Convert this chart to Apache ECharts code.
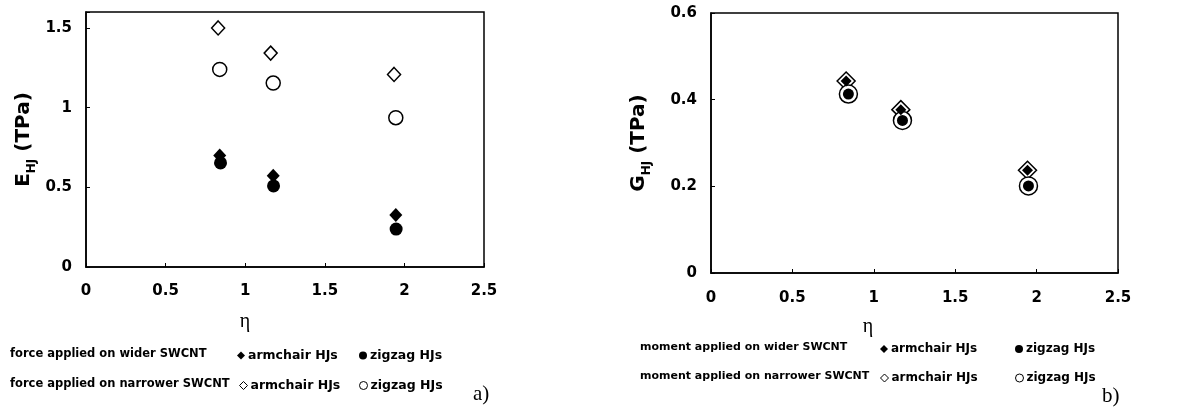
<!DOCTYPE html>
<html>
<head>
<meta charset="utf-8">
<script src="https://cdn.jsdelivr.net/npm/echarts@6/dist/echarts.min.js"></script>
<style>
html,body{margin:0;padding:0;background:#fff;}
#chart{width:1199px;height:409px;}
</style>
</head>
<body>
<div id="chart"></div>
<script>
// ---- data (η, value in TPa) ----
var xTicks = [0, 0.5, 1, 1.5, 2, 2.5];
// a) Young's modulus E_HJ
var E_widerArmchair    = [[0.84, 0.700], [1.176, 0.572], [1.946, 0.326]];
var E_widerZigzag      = [[0.845, 0.653], [1.178, 0.509], [1.948, 0.238]];
var E_narrowerArmchair = [[0.83, 1.500], [1.160, 1.342], [1.935, 1.208]];
var E_narrowerZigzag   = [[0.84, 1.240], [1.176, 1.154], [1.946, 0.937]];
// b) shear modulus G_HJ
var G_widerArmchair    = [[0.83, 0.443], [1.166, 0.377], [1.944, 0.237]];
var G_widerZigzag      = [[0.844, 0.413], [1.176, 0.352], [1.950, 0.201]];
var G_narrowerArmchair = [[0.83, 0.443], [1.166, 0.377], [1.944, 0.237]];
var G_narrowerZigzag   = [[0.844, 0.413], [1.176, 0.352], [1.950, 0.201]];

var legendLabels = {
  'E wider armchair': 'armchair HJs', 'E wider zigzag': 'zigzag HJs',
  'E narrower armchair': 'armchair HJs', 'E narrower zigzag': 'zigzag HJs',
  'G wider armchair': 'armchair HJs', 'G wider zigzag': 'zigzag HJs',
  'G narrower armchair': 'armchair HJs', 'G narrower zigzag': 'zigzag HJs'
};

var SANS = 'DejaVu Sans';
var chart = echarts.init(document.getElementById('chart'), null, {renderer: 'canvas'});

function xAxis(gridIndex, labelMargin, nameGap, padRight) {
  return {
    gridIndex: gridIndex, type: 'value', min: 0, max: 2.5, interval: 0.5,
    name: 'η', nameLocation: 'middle', nameGap: nameGap,
    nameTextStyle: {fontFamily: 'Liberation Serif', fontSize: 20, color: '#000', padding: [0, padRight, 0, 0]},
    axisLine: {show: true, lineStyle: {color: '#000', width: 1.5}},
    axisTick: {show: true, inside: true, length: 4, lineStyle: {color: '#000', width: 1}},
    axisLabel: {color: '#000', fontFamily: SANS, fontWeight: 'bold', fontSize: 15, margin: labelMargin},
    splitLine: {show: false}
  };
}
function yAxis(gridIndex, max, interval, letter, nameGap) {
  return {
    gridIndex: gridIndex, type: 'value', min: 0, max: max, interval: interval,
    name: '{b|' + letter + '}{s|HJ}{b| (TPa)}', nameLocation: 'middle', nameGap: nameGap,
    nameTextStyle: {
      color: '#000',
      rich: {
        b: {fontFamily: SANS, fontWeight: 'bold', fontSize: 20, color: '#000', lineHeight: 24, verticalAlign: 'bottom'},
        s: {fontFamily: SANS, fontWeight: 'bold', fontSize: 12, color: '#000', lineHeight: 14, verticalAlign: 'bottom', padding: [0, 0, -4, 0]}
      }
    },
    axisLine: {show: true, lineStyle: {color: '#000', width: 1.5}},
    axisTick: {show: true, inside: true, length: 4, lineStyle: {color: '#000', width: 1}},
    axisLabel: {
      color: '#000', fontFamily: SANS, fontWeight: 'bold', fontSize: 15, margin: 14,
      formatter: function (v) {
        var r = Math.round(v / interval) * interval;
        if (Math.abs(r - v) > 1e-6) return '';
        return String(+v.toFixed(2));
      }
    },
    splitLine: {show: false}
  };
}
function filledStyle() { return {color: '#000', borderColor: '#000', borderWidth: 0, opacity: 1}; }
function openStyle(w) { return {color: '#fff', borderColor: '#000', borderWidth: w, opacity: 1}; }

function legendItem(name, left, top, filled, symbol, fs) {
  return {
    show: true, left: left, top: top, orient: 'horizontal', padding: 0,
    itemWidth: 8, itemHeight: 8, itemGap: 0, selectedMode: false,
    data: [{name: name, icon: symbol,
            itemStyle: filled ? {color: '#000', borderWidth: 0, opacity: 1} : {color: '#fff', borderColor: '#000', borderWidth: 1, opacity: 1}}],
    formatter: function (n) { return legendLabels[n]; },
    textStyle: {color: '#000', fontFamily: SANS, fontWeight: 'bold', fontSize: fs, lineHeight: 12, padding: [0, 0, 0, -2]}
  };
}

var option = {
  backgroundColor: '#fff',
  animation: false,
  grid: [
    {left: 86, top: 12, width: 398, height: 255, show: true, borderColor: '#000', borderWidth: 1.5, backgroundColor: 'transparent'},
    {left: 711, top: 13, width: 407, height: 260, show: true, borderColor: '#000', borderWidth: 1.5, backgroundColor: 'transparent'}
  ],
  xAxis: [xAxis(0, 17, 45, 80), xAxis(1, 18, 44, 93)],
  yAxis: [yAxis(0, 1.6, 0.5, 'E', 52), yAxis(1, 0.6, 0.2, 'G', 62)],
  legend: [
    legendItem('E wider armchair', 237, 349, true, 'diamond', 12.5),
    legendItem('E wider zigzag', 359, 349, true, 'circle', 12.5),
    legendItem('E narrower armchair', 239, 379, false, 'diamond', 12.5),
    legendItem('E narrower zigzag', 359, 379, false, 'circle', 12.5),
    legendItem('G wider armchair', 880, 343, true, 'diamond', 12),
    legendItem('G wider zigzag', 1015, 343, true, 'circle', 12),
    legendItem('G narrower armchair', 880, 372, false, 'diamond', 12),
    legendItem('G narrower zigzag', 1015, 372, false, 'circle', 12)
  ],
  graphic: [
    {type: 'text', left: 10, top: 348, style: {text: 'force applied on wider SWCNT', fill: '#000', font: 'bold 11.5px "DejaVu Sans"'}},
    {type: 'text', left: 10, top: 378, style: {text: 'force applied on narrower SWCNT', fill: '#000', font: 'bold 11.5px "DejaVu Sans"'}},
    {type: 'text', left: 640, top: 342, style: {text: 'moment applied on wider SWCNT', fill: '#000', font: 'bold 11px "DejaVu Sans"'}},
    {type: 'text', left: 640, top: 371, style: {text: 'moment applied on narrower SWCNT', fill: '#000', font: 'bold 11px "DejaVu Sans"'}},
    {type: 'text', left: 473, top: 384, style: {text: 'a)', fill: '#000', font: '21px "Liberation Serif"'}},
    {type: 'text', left: 1102, top: 386, style: {text: 'b)', fill: '#000', font: '21px "Liberation Serif"'}}
  ],
  series: [
    {name: 'E narrower armchair', type: 'scatter', xAxisIndex: 0, yAxisIndex: 0, data: E_narrowerArmchair,
     symbol: 'diamond', symbolSize: [13, 14], itemStyle: openStyle(1.5)},
    {name: 'E narrower zigzag', type: 'scatter', xAxisIndex: 0, yAxisIndex: 0, data: E_narrowerZigzag,
     symbol: 'circle', symbolSize: 14, itemStyle: openStyle(1.5)},
    {name: 'E wider armchair', type: 'scatter', xAxisIndex: 0, yAxisIndex: 0, data: E_widerArmchair,
     symbol: 'diamond', symbolSize: [13, 14], itemStyle: filledStyle()},
    {name: 'E wider zigzag', type: 'scatter', xAxisIndex: 0, yAxisIndex: 0, data: E_widerZigzag,
     symbol: 'circle', symbolSize: 13, itemStyle: filledStyle()},
    {name: 'G narrower armchair', type: 'scatter', xAxisIndex: 1, yAxisIndex: 1, data: G_narrowerArmchair,
     symbol: 'diamond', symbolSize: [18, 18], itemStyle: openStyle(1.5), z: 2},
    {name: 'G narrower zigzag', type: 'scatter', xAxisIndex: 1, yAxisIndex: 1, data: G_narrowerZigzag,
     symbol: 'circle', symbolSize: 18, itemStyle: openStyle(1.5), z: 2},
    {name: 'G wider armchair', type: 'scatter', xAxisIndex: 1, yAxisIndex: 1, data: G_widerArmchair,
     symbol: 'diamond', symbolSize: [11, 11], itemStyle: filledStyle(), z: 3},
    {name: 'G wider zigzag', type: 'scatter', xAxisIndex: 1, yAxisIndex: 1, data: G_widerZigzag,
     symbol: 'circle', symbolSize: 11, itemStyle: filledStyle(), z: 3}
  ]
};
chart.setOption(option);
</script>
</body>
</html>
